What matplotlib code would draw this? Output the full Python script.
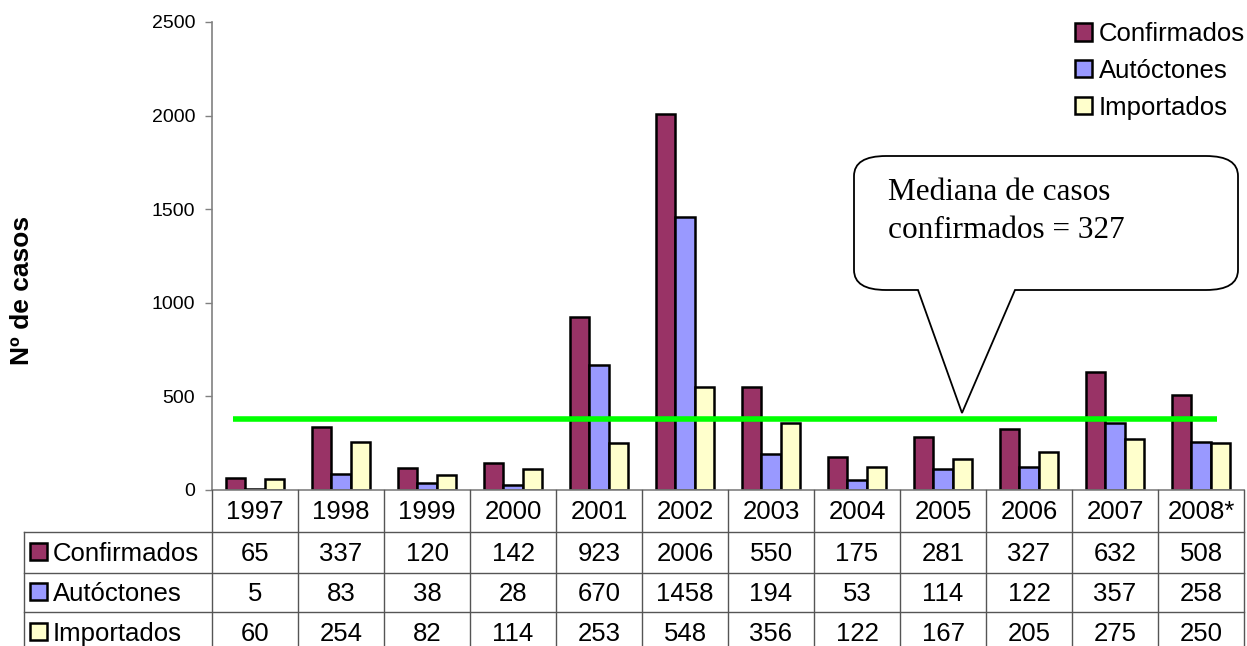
import numpy as np
import matplotlib
matplotlib.use('Agg')
import matplotlib.pyplot as plt
from matplotlib.patches import Patch, Rectangle, PathPatch
from matplotlib.path import Path
from matplotlib.lines import Line2D

plt.rcParams['font.family'] = ['Liberation Sans', 'DejaVu Sans']

years = ['1997', '1998', '1999', '2000', '2001', '2002', '2003', '2004',
         '2005', '2006', '2007', '2008*']
confirmados = [65, 337, 120, 142, 923, 2006, 550, 175, 281, 327, 632, 508]
autoctones = [5, 83, 38, 28, 670, 1458, 194, 53, 114, 122, 357, 258]
importados = [60, 254, 82, 114, 253, 548, 356, 122, 167, 205, 275, 250]
series_names = ['Confirmados', 'Autóctones', 'Importados']
colors = ['#993366', '#9999FF', '#FFFFCC']
median_line = 380  # level where the green line was drawn
callout_text = ['Mediana de casos', 'confirmados = 327']

W, H = 1247, 646
fig = plt.figure(figsize=(W / 100, H / 100), dpi=100)

# axes box in pixels
L, R, T, B = 212, 1244, 22, 490
ax = fig.add_axes([L / W, 1 - B / H, (R - L) / W, (B - T) / H])


def fx(px):
    return px / W


def fy(py):
    return 1 - py / H


x = np.arange(len(years))
bw = 0.225
series = [confirmados, autoctones, importados]
for i, vals in enumerate(series):
    ax.bar(x + (i - 1) * bw, vals, bw, color=colors[i], edgecolor='black',
           linewidth=1.8, zorder=2)

ax.hlines(median_line, -0.26, 11.19, color='#00FF00', linewidth=4, zorder=3)

ax.set_xlim(-0.5, len(years) - 0.5)
ax.set_ylim(0, 2500)
ax.set_yticks(np.arange(0, 2501, 500))
ax.tick_params(axis='y', labelsize=14, length=5, width=1, color='#808080', pad=7)
ax.set_xticks([])
for s in ['top', 'right']:
    ax.spines[s].set_visible(False)
for s in ['left', 'bottom']:
    ax.spines[s].set_color('#808080')
    ax.spines[s].set_linewidth(1.2)

fig.text(fx(22), fy(290), 'Nº de casos', rotation=90, ha='center', va='center',
         fontsize=19, fontweight='bold')

fs = 18.5
# legend
handles = [Patch(facecolor=c, edgecolor='black', linewidth=1.8) for c in colors]
fig.legend(handles, series_names, loc='upper right',
           bbox_to_anchor=(fx(1245), fy(22)), frameon=False, fontsize=fs,
           handlelength=0.66, handleheight=0.66, handletextpad=0.25,
           labelspacing=0.5, borderpad=0, borderaxespad=0)

# data table under the axis
tc = '#555555'
col_w = (R - L) / len(years)
row_lines = [532, 573, 612, 653]
for yl in row_lines[:-1]:
    fig.add_artist(Line2D([fx(24), fx(R)], [fy(yl), fy(yl)], color=tc, lw=1.0))
for j in range(len(years) + 1):
    xp = L + j * col_w
    fig.add_artist(Line2D([fx(xp), fx(xp)], [fy(B), fy(H + 10)], color=tc, lw=1.0))
fig.add_artist(Line2D([fx(24), fx(24)], [fy(532), fy(H + 10)], color=tc, lw=1.0))

for j, yr in enumerate(years):
    xc = L + (j + 0.5) * col_w
    fig.text(fx(xc), fy(519), yr, ha='center', va='baseline', fontsize=fs)
    for i, vals in enumerate(series):
        fig.text(fx(xc), fy(561 + 40 * i), str(vals[j]), ha='center',
                 va='baseline', fontsize=fs)

for i, name in enumerate(series_names):
    yb = 561 + 40 * i
    fig.add_artist(Rectangle((fx(30), fy(yb - 1)), 17 / W, 17 / H,
                             facecolor=colors[i], edgecolor='black', lw=1.8,
                             transform=fig.transFigure))
    fig.text(fx(53), fy(yb), name, ha='left', va='baseline', fontsize=fs)

# callout bubble
bl, br, bt, bb = 854, 1238, 156, 290
rx, ry = 32, 20
p1, p2, tip = 918, 1015, (962, 413)
pts = [(bl + rx, bt), (br - rx, bt), (br, bt), (br, bt + ry), (br, bb - ry),
       (br, bb), (br - rx, bb), (p2, bb), tip, (p1, bb), (bl + rx, bb),
       (bl, bb), (bl, bb - ry), (bl, bt + ry), (bl, bt), (bl + rx, bt),
       (bl + rx, bt)]
codes = [Path.MOVETO, Path.LINETO, Path.CURVE3, Path.CURVE3, Path.LINETO,
         Path.CURVE3, Path.CURVE3, Path.LINETO, Path.LINETO, Path.LINETO,
         Path.LINETO, Path.CURVE3, Path.CURVE3, Path.LINETO, Path.CURVE3,
         Path.CURVE3, Path.CLOSEPOLY]
verts = [(fx(a), fy(b)) for a, b in pts]
fig.add_artist(PathPatch(Path(verts, codes), facecolor='white', edgecolor='black',
                         lw=1.3, transform=fig.transFigure, zorder=5))
for k, line in enumerate(callout_text):
    fig.text(fx(888), fy(200 + 38 * k), line, ha='left', va='baseline',
             fontsize=22.5, family='Liberation Serif', zorder=6)

fig.savefig('out.png', dpi=100)
